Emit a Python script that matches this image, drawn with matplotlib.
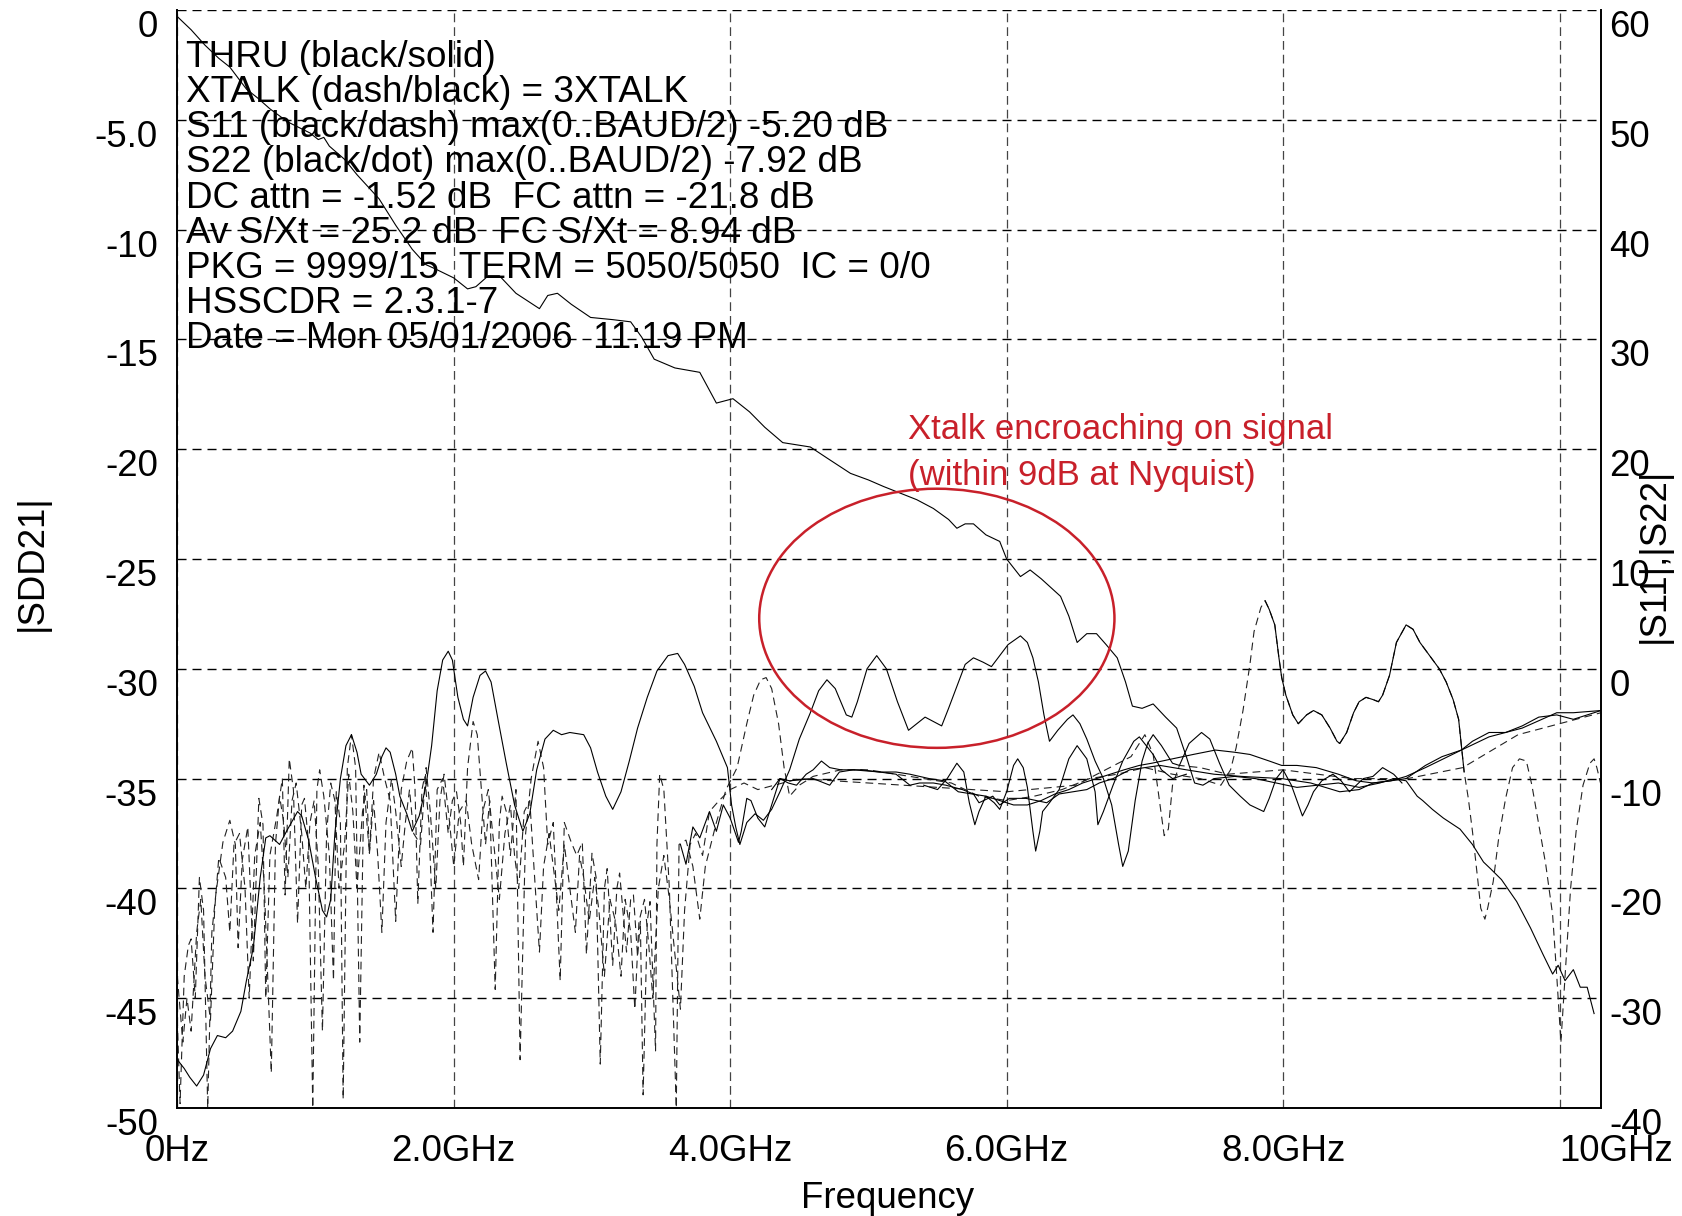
import numpy as np
import matplotlib
matplotlib.use('Agg')
import matplotlib.pyplot as plt
from matplotlib.patches import Ellipse

# frequency in GHz, level in dB (|SDD21| axis)
thru = [(0.00, -0.3), (0.10, -0.9), (0.20, -1.6), (0.30, -2.2), (0.38, -2.6), (0.50, -3.6), (0.58, -4.0),
        (0.67, -4.5), (0.80, -5.1), (0.96, -5.6), (1.02, -5.9), (1.06, -5.8), (1.10, -6.2), (1.21, -6.8),
        (1.30, -7.5), (1.46, -8.6), (1.58, -9.8), (1.70, -10.9), (1.80, -11.6), (1.87, -11.8), (2.00, -12.2),
        (2.10, -12.7), (2.16, -12.6), (2.25, -12.1), (2.33, -12.1), (2.45, -12.9), (2.62, -13.6), (2.68, -13.0),
        (2.75, -12.9), (2.85, -13.4), (2.99, -14.0), (3.15, -14.1), (3.28, -14.2), (3.36, -14.9), (3.45, -15.9),
        (3.60, -16.3), (3.78, -16.5), (3.90, -17.9), (4.02, -17.7), (4.14, -18.3), (4.25, -19.0), (4.38, -19.7),
        (4.58, -19.9), (4.70, -20.4), (4.87, -21.1), (5.00, -21.4), (5.11, -21.7), (5.23, -22.0), (5.35, -22.3),
        (5.47, -22.7), (5.58, -23.2), (5.64, -23.6), (5.70, -23.4), (5.76, -23.4), (5.85, -23.9), (5.95, -24.2),
        (6.00, -25.0), (6.10, -25.8), (6.17, -25.5), (6.25, -25.9), (6.39, -26.7), (6.45, -27.6), (6.51, -28.8),
        (6.58, -28.4), (6.65, -28.4), (6.72, -28.9), (6.80, -29.5), (6.86, -30.6), (6.91, -31.7), (6.98, -31.8),
        (7.06, -31.6), (7.15, -32.2), (7.23, -32.7), (7.30, -34.0), (7.36, -35.2), (7.42, -35.3), (7.50, -35.0),
        (7.65, -34.9), (7.80, -35.0), (7.95, -35.2), (8.10, -35.4), (8.25, -35.3), (8.40, -35.2), (8.55, -35.4),
        (8.70, -35.2), (8.80, -35.0), (8.89, -35.1), (8.97, -35.8), (9.01, -36.0), (9.08, -36.4), (9.16, -36.8),
        (9.28, -37.3), (9.37, -38.0), (9.45, -38.8), (9.50, -39.1), (9.58, -39.6), (9.69, -40.6), (9.79, -41.8),
        (9.88, -43.0), (9.95, -43.9), (9.99, -43.5), (10.04, -44.2), (10.10, -43.7), (10.15, -44.5),
        (10.20, -44.5), (10.25, -45.7)]

xtalk_solid = [(0.00, -47.8), (0.05, -48.2), (0.09, -48.6), (0.14, -49.0), (0.19, -48.5), (0.24, -47.3),
               (0.29, -46.7), (0.35, -46.8), (0.40, -46.5), (0.46, -45.6), (0.50, -44.2), (0.55, -42.7),
               (0.60, -39.5), (0.64, -37.7), (0.67, -37.6), (0.74, -38.0), (0.79, -37.4), (0.87, -36.5),
               (0.90, -36.7), (0.95, -37.8), (1.00, -39.5), (1.05, -41.0), (1.08, -41.3), (1.11, -40.5),
               (1.14, -37.5), (1.18, -35.0), (1.22, -33.5), (1.26, -33.0), (1.30, -33.8), (1.33, -34.8),
               (1.39, -35.3), (1.44, -34.8), (1.48, -34.0), (1.51, -33.6), (1.54, -33.8), (1.58, -34.8),
               (1.61, -35.8), (1.66, -36.6), (1.70, -37.4), (1.75, -36.7), (1.80, -35.3), (1.84, -33.5),
               (1.88, -31.0), (1.92, -29.6), (1.96, -29.2), (1.99, -29.6), (2.03, -31.3), (2.07, -32.3),
               (2.10, -32.6), (2.14, -31.3), (2.19, -30.3), (2.23, -30.1), (2.27, -30.6), (2.32, -32.3),
               (2.38, -34.3), (2.44, -36.2), (2.50, -37.4), (2.55, -36.6), (2.60, -34.6), (2.66, -33.2),
               (2.72, -32.8), (2.78, -33.0), (2.84, -32.9), (2.94, -33.0), (2.99, -33.6), (3.04, -34.7),
               (3.10, -35.8), (3.15, -36.4), (3.21, -35.6), (3.27, -34.2), (3.33, -32.7), (3.40, -31.3),
               (3.47, -30.1), (3.55, -29.4), (3.62, -29.3), (3.67, -29.8), (3.74, -30.8), (3.80, -32.0),
               (3.90, -33.3), (3.98, -34.5), (4.01, -36.2), (4.04, -37.2), (4.07, -38.0), (4.12, -37.0),
               (4.18, -36.6), (4.24, -36.9), (4.30, -36.4), (4.36, -35.6), (4.43, -34.6), (4.50, -33.2),
               (4.58, -32.0), (4.64, -31.0), (4.70, -30.5), (4.76, -30.9), (4.84, -32.1), (4.88, -32.2),
               (4.92, -31.5), (4.99, -30.0), (5.06, -29.4), (5.13, -30.0), (5.21, -31.5), (5.29, -32.8),
               (5.35, -32.5), (5.41, -32.2), (5.47, -32.4), (5.53, -32.6), (5.58, -31.8), (5.64, -30.8),
               (5.70, -29.8), (5.76, -29.5), (5.83, -29.7), (5.89, -29.9), (5.95, -29.4), (6.01, -28.9),
               (6.10, -28.5), (6.15, -28.8), (6.19, -29.5), (6.23, -30.6), (6.27, -32.1), (6.31, -33.3),
               (6.37, -32.8), (6.44, -32.3), (6.48, -32.1), (6.53, -32.5), (6.58, -33.2), (6.64, -34.2),
               (6.70, -35.0), (6.76, -36.2), (6.81, -38.0), (6.84, -39.0), (6.88, -38.3), (6.93, -36.0),
               (6.98, -34.2), (7.02, -33.4), (7.06, -33.0), (7.12, -33.5), (7.20, -34.3), (7.25, -34.4),
               (7.32, -33.4), (7.41, -32.9), (7.47, -33.2), (7.54, -34.3), (7.61, -35.3), (7.69, -35.8),
               (7.76, -36.2), (7.86, -36.5), (7.90, -35.9), (7.95, -35.0), (8.00, -34.6), (8.06, -35.3),
               (8.10, -36.0), (8.14, -36.7), (8.18, -36.2), (8.22, -35.6), (8.28, -35.1), (8.36, -34.8),
               (8.42, -35.1), (8.48, -35.6), (8.53, -35.3), (8.58, -35.0), (8.65, -34.9), (8.72, -34.5),
               (8.80, -34.8), (8.86, -35.2)]

xtalk_peaks = [(7.87, -26.9), (7.90, -27.3), (7.94, -28.0), (7.97, -29.5), (7.99, -30.4), (8.02, -31.2),
               (8.07, -32.1), (8.11, -32.5), (8.17, -32.1), (8.22, -31.9), (8.28, -32.1), (8.34, -32.7),
               (8.39, -33.3), (8.41, -33.4), (8.46, -32.9), (8.51, -32.0), (8.55, -31.5), (8.60, -31.3),
               (8.65, -31.4), (8.69, -31.5), (8.72, -31.2), (8.77, -30.3), (8.82, -28.8), (8.89, -28.0),
               (8.94, -28.2), (8.99, -28.8), (9.06, -29.4), (9.13, -30.0), (9.18, -30.6), (9.23, -31.4),
               (9.27, -32.3), (9.29, -33.5), (9.31, -34.7)]

ripple = [(5.40, -35.3), (5.50, -35.5), (5.57, -35.0), (5.64, -34.3), (5.69, -34.7), (5.73, -36.1),
          (5.77, -37.1), (5.80, -36.5), (5.85, -35.8), (5.91, -36.1), (5.95, -36.4), (6.00, -35.6),
          (6.05, -34.4), (6.08, -34.1), (6.12, -34.5), (6.15, -35.4), (6.19, -37.4), (6.21, -38.3),
          (6.24, -37.4), (6.26, -36.5), (6.31, -36.1), (6.38, -35.5), (6.45, -34.1), (6.51, -33.5),
          (6.58, -34.1), (6.64, -35.6), (6.66, -37.1), (6.70, -36.5), (6.77, -35.3), (6.84, -34.2),
          (6.92, -33.3), (6.96, -33.1), (7.01, -33.5), (7.06, -33.9), (7.12, -34.6), (7.20, -35.0),
          (7.30, -34.8)]

s11 = [(4.30, -35.5), (4.36, -35.0), (4.42, -35.2), (4.48, -35.3), (4.55, -34.8), (4.60, -34.6), (4.66, -34.2),
       (4.72, -34.5), (4.80, -34.6), (4.95, -34.6), (5.08, -34.7), (5.20, -34.7), (5.30, -34.8), (5.44, -35.0),
       (5.55, -35.1), (5.65, -35.6), (5.75, -35.7), (5.85, -35.8), (5.95, -36.0), (6.05, -36.2), (6.15, -36.2),
       (6.25, -36.0), (6.35, -35.7), (6.45, -35.5), (6.55, -35.2), (6.65, -35.0), (6.75, -34.8), (6.85, -34.6),
       (6.96, -34.4), (7.05, -34.3), (7.20, -34.1), (7.35, -33.9), (7.51, -33.7), (7.65, -33.8), (7.76, -33.9),
       (7.90, -34.2), (7.99, -34.4), (8.10, -34.4), (8.24, -34.5), (8.40, -34.8), (8.53, -35.1), (8.65, -35.2),
       (8.78, -35.1), (8.89, -35.0), (9.03, -34.4), (9.15, -34.0), (9.29, -33.7), (9.37, -33.3), (9.49, -32.9),
       (9.61, -32.9), (9.73, -32.6), (9.85, -32.2), (9.98, -32.1), (10.10, -32.3), (10.20, -32.1),
       (10.30, -31.9)]

s22 = [(3.64, -38.0), (3.68, -38.9), (3.73, -37.2), (3.78, -37.7), (3.85, -36.5), (3.90, -37.4),
       (3.95, -36.2), (4.00, -36.8), (4.06, -37.9), (4.08, -37.4), (4.12, -35.9), (4.15, -36.0), (4.20, -36.8),
       (4.25, -37.2), (4.30, -36.2), (4.36, -35.0), (4.43, -35.1), (4.60, -35.0), (4.72, -35.3), (4.79, -34.7),
       (4.89, -34.6), (5.08, -34.7), (5.20, -34.8), (5.30, -35.3), (5.37, -35.2), (5.47, -35.2), (5.56, -35.3),
       (5.68, -35.5), (5.76, -35.7), (5.80, -36.1), (5.90, -35.8), (5.95, -36.2), (6.02, -35.9), (6.14, -35.9),
       (6.29, -36.1), (6.38, -35.7), (6.48, -35.6), (6.58, -35.5), (6.67, -35.2), (6.77, -35.0), (6.89, -34.6),
       (7.11, -34.4), (7.30, -34.6), (7.50, -34.8), (7.70, -34.9), (7.99, -35.0), (8.20, -35.2), (8.41, -35.6),
       (8.55, -35.5), (8.65, -35.2), (8.78, -35.1), (8.89, -34.9), (9.03, -34.5), (9.29, -33.7), (9.49, -33.1),
       (9.73, -32.7), (9.98, -32.0), (10.10, -32.0), (10.30, -31.9)]

xtalk_a = [(0.00, -46.0), (0.02, -49.8), (0.05, -44.0), (0.08, -42.6), (0.10, -42.3), (0.13, -45.0), (0.16, -39.5),
           (0.19, -41.0), (0.22, -50.0), (0.25, -42.0), (0.28, -40.2), (0.33, -37.9), (0.38, -36.9), (0.42, -38.0),
           (0.44, -42.7), (0.47, -38.7), (0.51, -37.2), (0.55, -43.3), (0.59, -35.9), (0.62, -37.1), (0.64, -45.0),
           (0.67, -38.5), (0.72, -36.7), (0.76, -35.0), (0.78, -40.3), (0.81, -34.1), (0.84, -35.5), (0.87, -41.6),
           (0.90, -36.2), (0.92, -35.9), (0.95, -38.0), (0.98, -50.0), (1.01, -35.5), (1.03, -34.6), (1.06, -35.8),
           (1.10, -38.5), (1.13, -44.2), (1.15, -35.6), (1.18, -37.0), (1.20, -49.6), (1.23, -34.5), (1.26, -33.0),
           (1.29, -34.5), (1.32, -47.0), (1.35, -35.3), (1.39, -38.4), (1.42, -35.0), (1.46, -33.8), (1.50, -35.0),
           (1.54, -36.0), (1.58, -41.5), (1.62, -35.5), (1.66, -34.2), (1.70, -33.6), (1.72, -35.5), (1.74, -40.7),
           (1.77, -35.5), (1.79, -34.9), (1.82, -37.0), (1.85, -42.0), (1.88, -35.5), (1.92, -35.0), (1.96, -37.5),
           (1.99, -36.0), (2.02, -35.6), (2.05, -37.0), (2.07, -39.0), (2.10, -34.5), (2.14, -32.4), (2.17, -33.0),
           (2.20, -35.5), (2.23, -38.0), (2.26, -36.0), (2.30, -44.6), (2.33, -37.0), (2.35, -35.8), (2.38, -36.5),
           (2.41, -38.5), (2.45, -35.5), (2.48, -47.8), (2.52, -37.5), (2.56, -35.0), (2.61, -33.3), (2.65, -34.5),
           (2.68, -38.0), (2.72, -37.0), (2.77, -44.2), (2.80, -37.0), (2.85, -37.9), (2.89, -38.5), (2.93, -37.9),
           (2.96, -43.0), (3.00, -38.4), (3.03, -39.5), (3.06, -48.0), (3.09, -40.0), (3.11, -39.1), (3.15, -43.5),
           (3.18, -40.0), (3.20, -39.3), (3.25, -42.9), (3.28, -40.5), (3.30, -40.3), (3.33, -43.1), (3.35, -41.5),
           (3.37, -49.4), (3.40, -41.5), (3.42, -40.6), (3.46, -47.4), (3.47, -38.0), (3.49, -34.8), (3.52, -35.5),
           (3.56, -40.0), (3.61, -50.0), (3.63, -38.0), (3.68, -37.8), (3.73, -39.0), (3.78, -41.4), (3.82, -39.0),
           (3.90, -37.0), (3.97, -35.5), (4.05, -34.5), (4.12, -32.5), (4.17, -31.2), (4.22, -30.5), (4.26, -30.4),
           (4.30, -30.9), (4.35, -32.5), (4.39, -34.5), (4.43, -35.8), (4.50, -35.3), (4.60, -34.9), (4.80, -34.6),
           (5.00, -34.6), (5.20, -34.8), (5.40, -35.0), (5.60, -35.2), (5.80, -35.8), (6.00, -36.0), (6.20, -35.8),
           (6.40, -35.5), (6.60, -35.0), (6.80, -34.8), (7.00, -34.5), (7.20, -34.8), (7.40, -35.0), (7.55, -35.3),
           (7.62, -34.6), (7.66, -33.6), (7.71, -31.9), (7.76, -29.8), (7.79, -28.3), (7.84, -27.2), (7.87, -26.9),
           (7.90, -27.3), (7.94, -28.0), (7.97, -29.5), (7.99, -30.4), (8.02, -31.2), (8.07, -32.1), (8.11, -32.5),
           (8.17, -32.1), (8.22, -31.9), (8.28, -32.1), (8.34, -32.7), (8.39, -33.3), (8.41, -33.4), (8.46, -32.9),
           (8.51, -32.0), (8.55, -31.5), (8.60, -31.3), (8.65, -31.4), (8.69, -31.5), (8.72, -31.2), (8.77, -30.3),
           (8.82, -28.8), (8.89, -28.0), (8.94, -28.2), (8.99, -28.8), (9.06, -29.4), (9.13, -30.0), (9.18, -30.6),
           (9.23, -31.4), (9.27, -32.3), (9.29, -33.5), (9.31, -34.7), (9.34, -35.9), (9.37, -37.4), (9.41, -39.7),
           (9.43, -40.9), (9.46, -41.4), (9.48, -40.9), (9.52, -39.7), (9.56, -37.7), (9.61, -35.9), (9.66, -34.5),
           (9.71, -34.1), (9.76, -34.2), (9.80, -35.3), (9.85, -37.1), (9.90, -38.9), (9.95, -41.2), (9.98, -44.0),
           (10.01, -47.0), (10.04, -44.0), (10.08, -40.0), (10.12, -37.4), (10.17, -35.3), (10.22, -34.3),
           (10.25, -34.1), (10.27, -34.5), (10.30, -35.3)]

xtalk_b = [(0.00, -44.0), (0.04, -47.0), (0.07, -45.0), (0.10, -46.5), (0.14, -42.0), (0.17, -40.5), (0.20, -44.0),
           (0.24, -46.0), (0.27, -41.0), (0.30, -38.6), (0.35, -39.5), (0.38, -42.0), (0.41, -38.0), (0.45, -37.5),
           (0.49, -40.0), (0.52, -45.0), (0.56, -38.5), (0.60, -37.0), (0.63, -40.0), (0.68, -48.4), (0.71, -38.0),
           (0.74, -35.8), (0.77, -37.0), (0.80, -39.5), (0.83, -36.0), (0.86, -35.2), (0.90, -37.5), (0.93, -40.0),
           (0.96, -37.0), (0.99, -36.0), (1.02, -39.0), (1.05, -46.5), (1.08, -37.5), (1.11, -35.2), (1.14, -36.0),
           (1.17, -40.0), (1.21, -38.0), (1.24, -34.8), (1.27, -36.5), (1.30, -40.0), (1.34, -36.5), (1.37, -35.5),
           (1.39, -38.4), (1.42, -36.0), (1.45, -38.5), (1.48, -42.0), (1.51, -37.0), (1.55, -35.0), (1.58, -36.5),
           (1.62, -39.0), (1.65, -37.0), (1.68, -35.5), (1.71, -37.5), (1.76, -38.0), (1.80, -34.5), (1.83, -36.5),
           (1.87, -40.0), (1.90, -36.0), (1.93, -34.8), (1.97, -37.0), (2.00, -39.0), (2.04, -36.5), (2.09, -36.0),
           (2.13, -38.0), (2.18, -39.6), (2.21, -36.5), (2.25, -35.5), (2.29, -38.0), (2.33, -40.5), (2.37, -37.5),
           (2.41, -36.2), (2.44, -38.5), (2.47, -40.0), (2.51, -36.5), (2.55, -36.0), (2.58, -39.0), (2.62, -42.9),
           (2.65, -39.0), (2.69, -37.5), (2.73, -39.5), (2.76, -41.0), (2.80, -38.0), (2.84, -40.0), (2.88, -42.0),
           (2.91, -38.5), (2.94, -39.5), (2.98, -41.5), (3.02, -39.5), (3.05, -41.0), (3.09, -44.0), (3.13, -40.5),
           (3.17, -41.5), (3.21, -44.0), (3.24, -40.5), (3.28, -42.0), (3.31, -45.5), (3.34, -41.5), (3.38, -40.5),
           (3.41, -42.5), (3.44, -45.0), (3.48, -40.0), (3.52, -38.5), (3.56, -40.5), (3.60, -43.0), (3.64, -45.5),
           (3.67, -41.0), (3.71, -38.0), (3.75, -37.5), (3.80, -38.5), (3.85, -36.5), (3.92, -36.0), (4.00, -35.5),
           (4.10, -35.2), (4.20, -35.5), (4.50, -35.0), (5.00, -35.2), (5.50, -35.4), (6.00, -35.6), (6.50, -35.3),
           (6.90, -34.0), (7.00, -33.0), (7.06, -33.9), (7.09, -35.3), (7.14, -37.6), (7.17, -37.3), (7.20, -35.3),
           (7.25, -34.4), (7.40, -34.5), (7.60, -34.8), (8.00, -34.6), (8.50, -35.0), (8.90, -35.0), (9.30, -34.5),
           (9.70, -33.0), (10.30, -32.0)]

x_ticks = [0, 2, 4, 6, 8, 10]
x_labels = ['0Hz', '2.0GHz', '4.0GHz', '6.0GHz', '8.0GHz', '10GHz']
left_ticks = [0, -5, -10, -15, -20, -25, -30, -35, -40, -45, -50]
left_labels = ['0', '-5.0', '-10', '-15', '-20', '-25', '-30', '-35', '-40', '-45', '-50']
right_ticks = [60, 50, 40, 30, 20, 10, 0, -10, -20, -30, -40]
right_labels = ['60', '50', '40', '30', '20', '10', '0', '-10', '-20', '-30', '-40']

info_lines = ['THRU (black/solid)',
              'XTALK (dash/black) = 3XTALK',
              'S11 (black/dash) max(0..BAUD/2) -5.20 dB',
              'S22 (black/dot) max(0..BAUD/2) -7.92 dB',
              'DC attn = -1.52 dB  FC attn = -21.8 dB',
              'Av S/Xt = 25.2 dB  FC S/Xt = 8.94 dB',
              'PKG = 9999/15  TERM = 5050/5050  IC = 0/0',
              'HSSCDR = 2.3.1-7',
              'Date = Mon 05/01/2006  11:19 PM']
note_lines = ['Xtalk encroaching on signal', '(within 9dB at Nyquist)']


def main():
    plt.rcParams['font.family'] = ['Liberation Sans', 'DejaVu Sans']
    plt.rcParams['axes.unicode_minus'] = False
    W, H = 1682, 1216
    fig = plt.figure(figsize=(W / 100, H / 100), dpi=100)
    ax = fig.add_axes([177.3 / W, 1 - 1108 / H, (1601 - 177.3) / W, (1108 - 10) / H])
    ax.set_xlim(0, 10.3)
    ax.set_ylim(-50, 0)

    ax.set_yticks(left_ticks)
    ax.set_yticklabels(left_labels)
    ax.set_xticks(x_ticks)
    ax.set_xticklabels(x_labels)
    ax.tick_params(length=0, labelsize=26.4)
    ax.tick_params(axis='y', pad=14)
    ax.tick_params(axis='x', pad=19)
    for lbl in ax.get_yticklabels():
        lbl.set_va('top')
    ax.get_xticklabels()[-1].set_ha('left')

    ax.yaxis.grid(True, color='black', lw=1.0, linestyle=(0, (6.5, 4.3)))
    ax.xaxis.grid(True, color='#444444', lw=0.9, linestyle=(0, (7, 4)))
    ax.spines['top'].set_visible(False)
    for s in ['left', 'bottom', 'right']:
        ax.spines[s].set_linewidth(1.4)

    dash = (0, (7, 4.5))
    for series in (xtalk_a, xtalk_b):
        f, d = np.array(series).T
        ax.plot(f, d, color='#222222', lw=0.8, linestyle=dash)
    for series in (s11, s22, ripple, xtalk_solid, xtalk_peaks, thru):
        f, d = np.array(series).T
        ax.plot(f, d, color='black', lw=0.8)

    red = '#c8202a'
    ax.add_patch(Ellipse((5.495, -27.7), 2.57, 11.8, fill=False, ec=red, lw=1.8, zorder=5))

    ax2 = ax.twinx()
    ax2.set_ylim(-40, 60)
    ax2.set_yticks(right_ticks)
    ax2.set_yticklabels(right_labels)
    ax2.tick_params(length=0, labelsize=26.4, pad=6)
    for lbl in ax2.get_yticklabels():
        lbl.set_va('top')
    for s in ax2.spines.values():
        s.set_visible(False)

    for i, line in enumerate(info_lines):
        fig.text(186 / W, 1 - (66.7 + i * 35.2) / H, line, fontsize=26.6, va='baseline', ha='left')
    fig.text(908 / W, 1 - 439 / H, note_lines[0], fontsize=25, color=red, va='baseline')
    fig.text(908 / W, 1 - 485 / H, note_lines[1], fontsize=25, color=red, va='baseline')

    fig.text(32 / W, 1 - 563 / H, '|SDD21|', fontsize=26.4, rotation=90, ha='center', va='center')
    fig.text(1654 / W, 1 - 555 / H, '|S11|,|S22|', fontsize=26.4, rotation=90, ha='center', va='center')
    fig.text(888 / W, 1 - 1198 / H, 'Frequency', fontsize=26.4, ha='center', va='center')

    fig.savefig('out.png', dpi=100)


if __name__ == '__main__':
    main()
